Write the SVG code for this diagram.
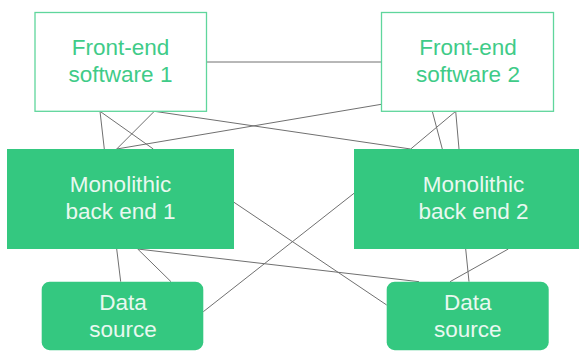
<svg xmlns="http://www.w3.org/2000/svg" width="579" height="351" viewBox="0 0 579 351">
<style>
.outline{fill:#ffffff;stroke:#5fd69c;stroke-width:1.3}
.solid{fill:#34c880;stroke:none}
.t{font-family:"Liberation Sans",Arial,sans-serif;font-size:22.5px;text-anchor:middle}
.tg{fill:#3fcb88}
.tw{fill:#e9f8f0}
.c line{stroke:#707070;stroke-width:1}
</style>
<rect width="579" height="351" fill="#ffffff"/>
<g id="connectors" class="c">
<line x1="206.7" y1="62" x2="381.3" y2="62"/>
<line x1="100" y1="111.3" x2="104.3" y2="149"/>
<line x1="100" y1="111.3" x2="153.3" y2="149"/>
<line x1="154.3" y1="111.3" x2="116.7" y2="149"/>
<line x1="154.3" y1="111.3" x2="410.7" y2="149"/>
<line x1="116.7" y1="149" x2="381.3" y2="104.3"/>
<line x1="432.3" y1="111.3" x2="442.3" y2="149"/>
<line x1="455.7" y1="111.3" x2="459" y2="149"/>
<line x1="455.7" y1="111.3" x2="410.7" y2="149"/>
<line x1="116.7" y1="249" x2="120.7" y2="281.7"/>
<line x1="137.7" y1="249" x2="171" y2="281.7"/>
<line x1="137.7" y1="249" x2="419" y2="281.7"/>
<line x1="234" y1="202.3" x2="386.7" y2="305"/>
<line x1="203.3" y1="311.7" x2="354" y2="193.3"/>
<line x1="465.7" y1="249" x2="469" y2="281.7"/>
<line x1="508.3" y1="249" x2="450" y2="281.7"/>
</g>
<g id="frontend1">
<rect class="outline" x="35" y="12.5" width="171.5" height="98.8"/>
<text class="t tg" x="120.5" y="55">Front-end</text>
<text class="t tg" x="120.5" y="82">software 1</text>
</g>
<g id="frontend2">
<rect class="outline" x="381.5" y="12.5" width="172" height="98.8"/>
<text class="t tg" x="468" y="55">Front-end</text>
<text class="t tg" x="468" y="82">software 2</text>
</g>
<g id="backend1">
<rect class="solid" x="7" y="149" width="227" height="100"/>
<text class="t tw" x="120.5" y="192">Monolithic</text>
<text class="t tw" x="120.5" y="219">back end 1</text>
</g>
<g id="backend2">
<rect class="solid" x="354" y="149" width="240" height="100"/>
<text class="t tw" x="473.5" y="192">Monolithic</text>
<text class="t tw" x="473.5" y="219">back end 2</text>
</g>
<g id="datasource1">
<rect class="solid" x="41.7" y="281.7" width="161.6" height="68.5" rx="8"/>
<text class="t tw" x="123" y="309.5">Data</text>
<text class="t tw" x="123" y="337">source</text>
</g>
<g id="datasource2">
<rect class="solid" x="386.7" y="281.7" width="162" height="68.5" rx="8"/>
<text class="t tw" x="467.7" y="309.5">Data</text>
<text class="t tw" x="467.7" y="337">source</text>
</g>
</svg>
